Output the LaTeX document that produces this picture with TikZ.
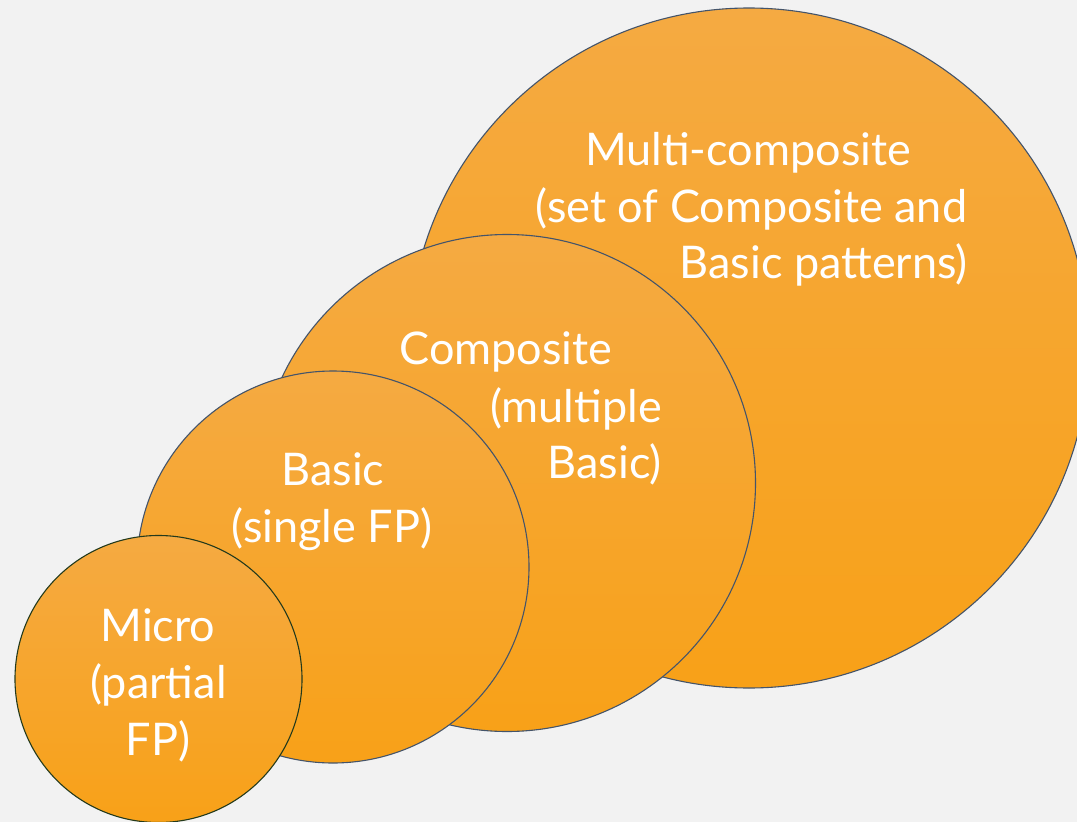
\documentclass[tikz,border=0pt]{standalone}
\usepackage{fontspec}
\setmainfont{Lato}
\definecolor{bg}{RGB}{242,242,242}
\definecolor{orangetop}{RGB}{245,170,66}
\definecolor{orangebot}{RGB}{248,161,24}
\definecolor{rimblue}{RGB}{68,84,106}
\definecolor{rimgreen}{RGB}{36,58,28}
\tikzset{
  bubble/.style={circle, draw=rimblue, line width=1.1pt, top color=orangetop, bottom color=orangebot, inner sep=0pt},
  lbl/.style={text=white, font=\fontsize{45}{54}\selectfont, inner sep=0pt}
}
\begin{document}
\begin{tikzpicture}[x=1pt,y=-1pt]
\useasboundingbox (0,0) rectangle (1077,822);
\clip (0,0) rectangle (1077,822);
\fill[bg] (0,0) rectangle (1077,822);
\node[bubble, minimum size=680pt] (multi) at (749,348) {};
\node[bubble, minimum size=497pt] (comp) at (507,483) {};
\node[bubble, minimum size=392pt] (basic) at (333,567) {};
\node[bubble, draw=rimgreen, minimum size=287pt] (micro) at (158.5,679) {};
\node[lbl, anchor=base] (m1) at (748,165) {Multi-composite};
\node[lbl, anchor=base] (m2) at (751.5,222) {(set of Composite and};
\node[lbl, anchor=base east] (m3) at (968,278) {Basic patterns)};
\node[lbl, anchor=base] (c1) at (506,364) {Composite};
\node[lbl, anchor=base east] (c2) at (662,422) {(multiple};
\node[lbl, anchor=base east] (c3) at (662,478) {Basic)};
\node[lbl, anchor=base] (b1) at (333,485) {Basic};
\node[lbl, anchor=base] (b2) at (332,542) {(single FP)};
\node[lbl, anchor=base] (u1) at (158,641) {Micro};
\node[lbl, anchor=base] (u2) at (158.5,698) {(partial};
\node[lbl, anchor=base] (u3) at (158,755) {FP)};
\end{tikzpicture}
\end{document}
